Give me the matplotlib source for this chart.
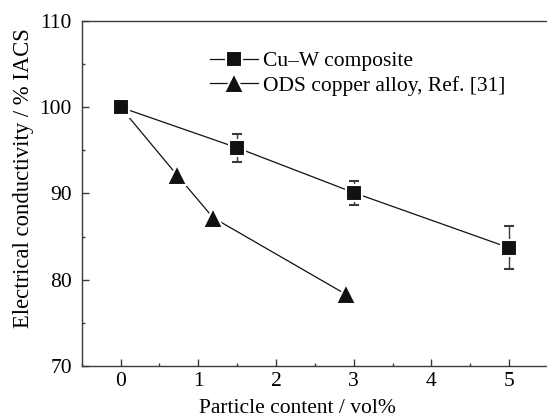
import matplotlib
matplotlib.use("Agg")
import matplotlib.pyplot as plt
from matplotlib.lines import Line2D
from matplotlib.ticker import MultipleLocator

plt.rcParams['font.family'] = ['Liberation Serif', 'DejaVu Serif']

# Cu-W composite (measured, with scatter)
cuw_x = [0, 1.5, 3, 5]
cuw_y = [100, 95.3, 90.1, 83.7]
cuw_err = [0, 1.65, 1.4, 2.5]

# ODS copper alloy, taken from Ref. [31]
ods_x = [0, 0.72, 1.19, 2.9]
ods_y = [100, 92.2, 87.2, 78.3]

fig = plt.figure(figsize=(5.47, 4.19), dpi=100)
ax = fig.add_axes([0.1494, 0.1265, 0.8525, 0.8234])

ink = '#111111'
grey = '#3a3a3a'
sq = dict(marker='s', ms=11, mfc=ink, mec='white', mew=1.5)
tri = dict(marker='^', ms=14, mfc=ink, mec='white', mew=1.5)

ax.errorbar(cuw_x, cuw_y, yerr=cuw_err, color=ink, lw=0.9, ecolor=grey,
            elinewidth=1.0, capsize=3.3, capthick=1.0, zorder=3, **sq)
ax.plot(ods_x, ods_y, color=ink, lw=0.9, zorder=3, **tri)

ax.set_xlim(-0.5, 5.5)
ax.set_ylim(70, 110)
ax.xaxis.set_major_locator(MultipleLocator(1))
ax.xaxis.set_minor_locator(MultipleLocator(0.5))
ax.yaxis.set_major_locator(MultipleLocator(10))
ax.yaxis.set_minor_locator(MultipleLocator(5))
ax.tick_params(which='both', direction='in', top=False, right=False,
               width=1.0, color=grey, labelsize=15.5)
ax.tick_params(which='major', length=5)
ax.tick_params(which='minor', length=2.5)
ax.tick_params(axis='x', pad=4.3)
ax.tick_params(axis='y', pad=7)
for s in ax.spines.values():
    s.set_color(grey)
    s.set_linewidth(1.0)

ax.set_xlabel('Particle content / vol%', fontsize=15.5)
ax.xaxis.set_label_coords(0.462, -0.096)
ax.set_ylabel('Electrical conductivity / % IACS', fontsize=16.3)
ax.yaxis.set_label_coords(-0.103, 0.545)

handles = [Line2D([], [], color=ink, lw=0.9, **sq),
           Line2D([], [], color=ink, lw=0.9, **tri)]
labels = ['Cu\u2013W composite', 'ODS copper alloy, Ref. [31]']
ax.legend(handles, labels, loc='upper left', bbox_to_anchor=(210 / 547, 1 - 51 / 419),
          bbox_transform=fig.transFigure, frameon=False, fontsize=15.5,
          handlelength=2.23, handletextpad=0.23, labelspacing=0.22,
          borderaxespad=0, borderpad=0)

fig.savefig('out.png', dpi=100)
